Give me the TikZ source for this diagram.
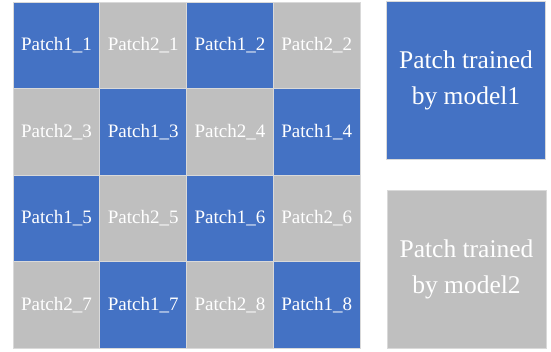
\documentclass[tikz,border=0pt]{standalone}
\usepackage{fontspec}
\setmainfont{Liberation Serif}
\usetikzlibrary{positioning}
\definecolor{PatchBlue}{HTML}{4472C4}
\definecolor{PatchGray}{HTML}{BFBFBF}
\definecolor{Edge}{HTML}{D9D9D9}

\begin{document}
\begin{tikzpicture}[x=1pt,y=1pt,
    cell/.style={draw=Edge,line width=0.8pt,minimum width=86.75pt,minimum height=86.6pt,
      outer sep=0pt,inner sep=0pt,text=white,font=\fontsize{19}{22}\selectfont},
    one/.style={cell,fill=PatchBlue},
    two/.style={cell,fill=PatchGray},
    legend/.style={draw=Edge,line width=0.8pt,minimum width=159pt,minimum height=158pt,
      align=center,text=white,font=\fontsize{25.5}{36}\selectfont}
  ]
    \useasboundingbox (0,0) rectangle (551,-351);
    % grid of patches
    \node[one] (p11) at (56.4,-45.3) {Patch1\_1};
    \node[two,right=0pt of p11] (p21) {Patch2\_1};
    \node[one,right=0pt of p21] (p12) {Patch1\_2};
    \node[two,right=0pt of p12] (p22) {Patch2\_2};

    \node[two,below=0pt of p11] (p23) {Patch2\_3};
    \node[one,right=0pt of p23] (p13) {Patch1\_3};
    \node[two,right=0pt of p13] (p24) {Patch2\_4};
    \node[one,right=0pt of p24] (p14) {Patch1\_4};

    \node[one,below=0pt of p23] (p15) {Patch1\_5};
    \node[two,right=0pt of p15] (p25) {Patch2\_5};
    \node[one,right=0pt of p25] (p16) {Patch1\_6};
    \node[two,right=0pt of p16] (p26) {Patch2\_6};

    \node[two,below=0pt of p15] (p27) {Patch2\_7};
    \node[one,right=0pt of p27] (p17) {Patch1\_7};
    \node[two,right=0pt of p17] (p28) {Patch2\_8};
    \node[one,right=0pt of p28] (p18) {Patch1\_8};

    % legend
    \node[legend,fill=PatchBlue] (model1) at (466,-80) {Patch trained\\by model1};
    \node[legend,fill=PatchGray] (model2) at (466.5,-269) {Patch trained\\by model2};
  \end{tikzpicture}
\end{document}
